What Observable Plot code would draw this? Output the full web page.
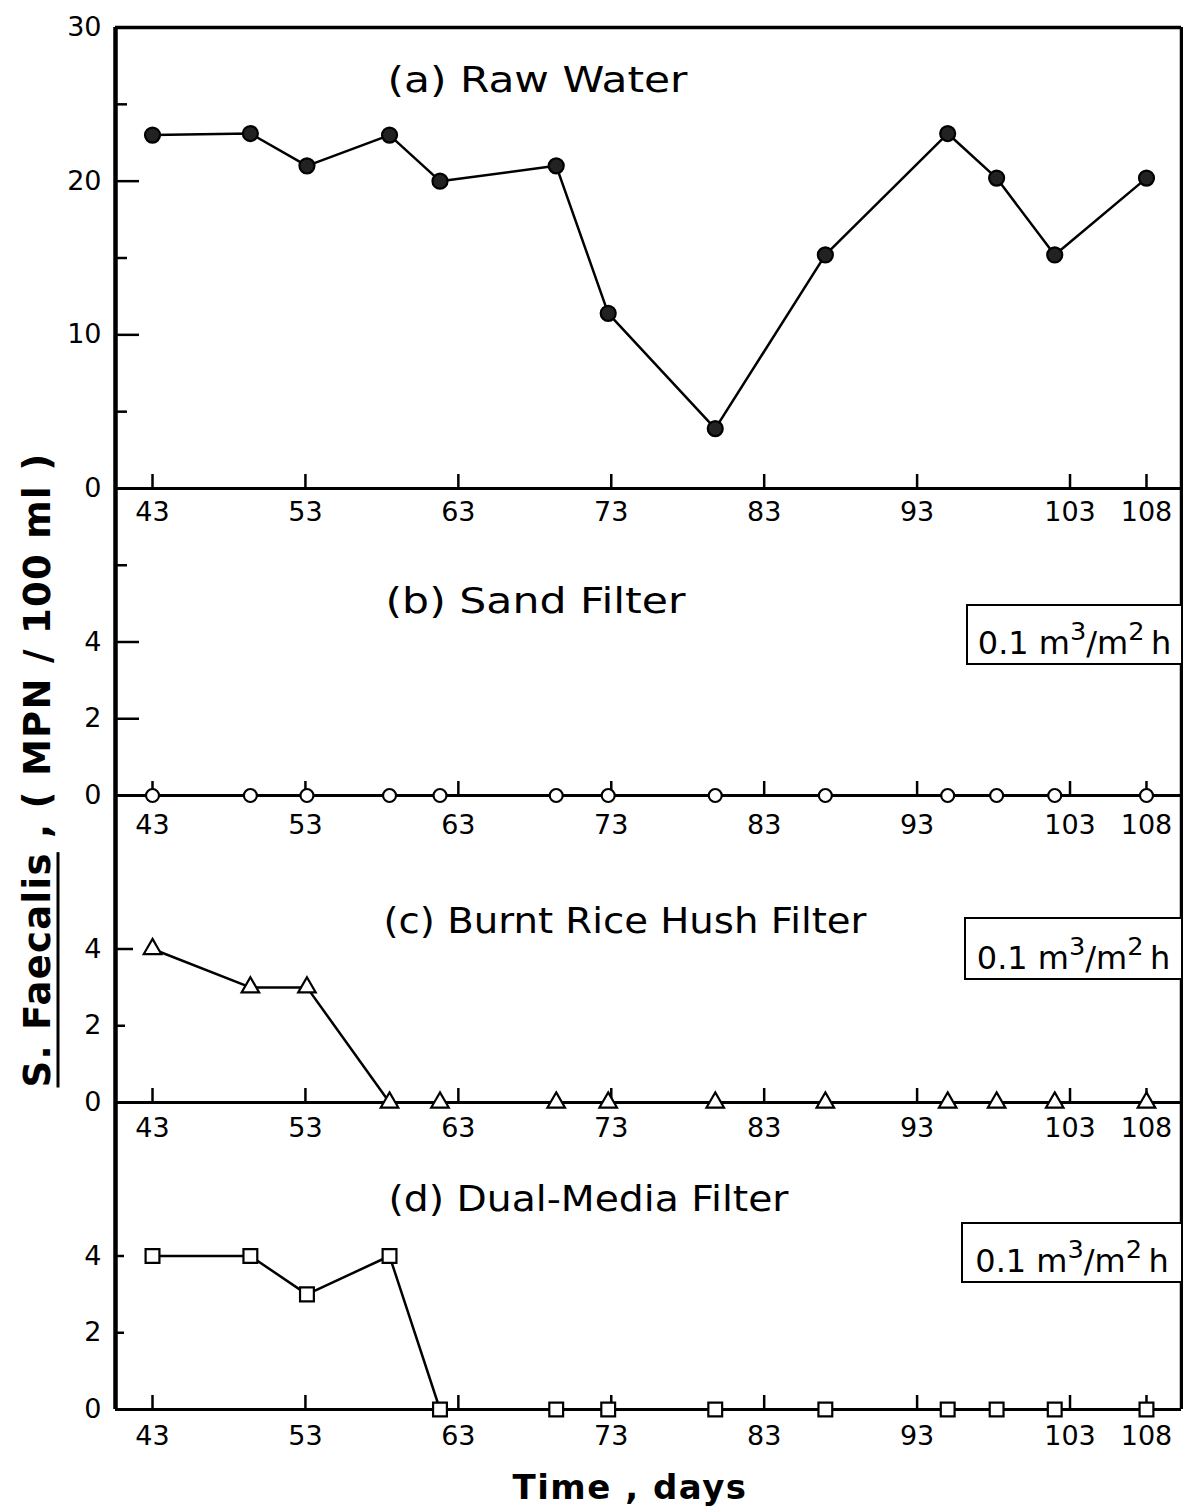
<!DOCTYPE html>
<html>
<head>
<meta charset="utf-8">
<script src="https://cdn.jsdelivr.net/npm/d3@7"></script>
<script src="https://cdn.jsdelivr.net/npm/@observablehq/plot@0.6"></script>
<style>
  body { margin: 0; background: #fff; }
  #fig { position: relative; width: 1183px; height: 1507px; font-family: "DejaVu Sans", sans-serif; color: #000; overflow: hidden; }
  .panel { position: absolute; left: 0; }
  .rate { position: absolute; border: 2.5px solid #000; border-right: none; background: #fff; box-sizing: border-box;
          font-size: 32px; display: flex; align-items: flex-end; justify-content: center; padding-bottom: 4px; white-space: nowrap; }
  .rate span.t { display: inline-block; line-height: 1; }
  .rate sup { font-size: 0.8em; vertical-align: 0.55em; line-height: 0; }
  #ylabel { position: absolute; left: 37px; top: 770px; transform: translate(-50%, -50%) rotate(-90deg);
            white-space: nowrap; font-weight: bold; font-size: 37px; letter-spacing: 1.3px; }
  #ylabel u { text-decoration-thickness: 3px; text-underline-offset: 7px; }
  #xlabel { position: absolute; left: 630px; top: 1487px; transform: translate(-50%, -50%);
            white-space: nowrap; font-weight: bold; font-size: 34px; letter-spacing: 1.5px; }
</style>
</head>
<body>
<div id="fig"></div>
<script>
// ---- data ----
const days = [43, 49.4, 53.1, 58.5, 61.8, 69.4, 72.8, 79.8, 87, 95, 98.2, 102, 108];
const rawWater        = [23, 23.1, 21, 23, 20, 21, 11.4, 3.9, 15.2, 23.1, 20.2, 15.2, 20.2];
const sandFilter      = [0, 0, 0, 0, 0, 0, 0, 0, 0, 0, 0, 0, 0];
const riceHuskFilter  = [4, 3, 3, 0, 0, 0, 0, 0, 0, 0, 0, 0, 0];
const dualMediaFilter = [4, 4, 3, 4, 0, 0, 0, 0, 0, 0, 0, 0, 0];
const xTicks = [43, 53, 63, 73, 83, 93, 103, 108];
const titles = ["(a) Raw Water", "(b) Sand Filter", "(c) Burnt Rice Hush Filter", "(d) Dual-Media Filter"];
const rateLabel = ["0.1 m", "3", "/m", "2", "h"];
const yLabel = ["S. Faecalis", " , ( MPN / 100 ml )"];
const xLabel = "Time , days";

// ---- layout ----
const W = 1183, ML = 115, MR = 2, MB = 50;
const xDomain = [40.58, 110.29];
const fig = document.getElementById("fig");

const panels = [
  {series: rawWater, yDomain: [0, 30], yLabels: [0, 10, 20, 30], major: [10, 20], minor: [5, 15, 25], majLen: 24, minLen: 12,
   top: 0, mt: 27, ph: 461, symbol: "circle", fill: "#222", r: 7.5, topLine: true, xpad: 13,
   title: titles[0], tx: 387, ty: 80, fs: 35, tw: 300},
  {series: sandFilter, yDomain: [0, 8], yLabels: [0, 2, 4], major: [2, 4], minor: [6], majLen: 24, minLen: 12,
   top: 478, mt: 10, ph: 307, symbol: "circle", fill: "white", r: 6.5, xpad: 19,
   title: titles[1], tx: 385, ty: 601, fs: 35, tw: 300, box: {left: 966, top: 604, h: 61}},
  {series: riceHuskFilter, yDomain: [0, 8], yLabels: [0, 2, 4], major: [4], minor: [2], majLen: 18, minLen: 10,
   top: 785, mt: 10, ph: 307, symbol: "triangle", fill: "white", r: 6.5, xpad: 15,
   title: titles[2], tx: 383, ty: 921, fs: 35, tw: 483, box: {left: 964, top: 917, h: 63}},
  {series: dualMediaFilter, yDomain: [0, 8], yLabels: [0, 2, 4], major: [4], minor: [2], majLen: 9, minLen: 9,
   top: 1092, mt: 10, ph: 307, symbol: "square", fill: "white", r: 7.8, xpad: 16,
   title: titles[3], tx: 388, ty: 1199, fs: 35, tw: 400, box: {left: 961, top: 1222, h: 61}}
];

panels.forEach(p => {
  const data = days.map((d, i) => ({day: d, value: p.series[i]}));
  const pw = W - ML - MR;
  const marks = [
    Plot.axisX(xTicks, {tickSize: 0, tickPadding: p.xpad, fontSize: 27, label: null}),
    Plot.axisY(p.yLabels, {tickSize: 0, tickPadding: 14, fontSize: 27, label: null}),
    Plot.tickX(xTicks, {x: d => d, insetTop: p.ph - 14, stroke: "black", strokeWidth: 2.5}),
    Plot.tickY(p.major, {y: d => d, insetRight: pw - p.majLen, stroke: "black", strokeWidth: 2.5}),
    Plot.tickY(p.minor, {y: d => d, insetRight: pw - p.minLen, stroke: "black", strokeWidth: 2.5}),
    Plot.ruleY([p.yDomain[0]], {stroke: "black", strokeWidth: 3}),
    Plot.ruleX([xDomain[0]], {stroke: "black", strokeWidth: 4.5}),
    Plot.ruleX([xDomain[1]], {stroke: "black", strokeWidth: 3.5}),
    Plot.line(data, {x: "day", y: "value", stroke: "black", strokeWidth: 2.5}),
    Plot.dot(data, {x: "day", y: "value", symbol: p.symbol, r: p.r, fill: p.fill, stroke: "black", strokeWidth: 2.2}),
    Plot.text([p.title], {frameAnchor: "top-left", dx: p.tx - ML, dy: p.ty - (p.top + p.mt), textAnchor: "start",
                          lineAnchor: "middle", fontSize: p.fs, fill: "black"})
  ];
  if (p.topLine) marks.push(Plot.ruleY([p.yDomain[1]], {stroke: "black", strokeWidth: 3.5}));
  const chart = Plot.plot({
    width: W, height: p.mt + p.ph + MB,
    marginLeft: ML, marginRight: MR, marginTop: p.mt, marginBottom: MB,
    style: {background: "transparent", fontFamily: "DejaVu Sans, sans-serif", color: "black", overflow: "visible"},
    x: {domain: xDomain, label: null},
    y: {domain: p.yDomain, label: null},
    marks
  });
  chart.classList.add("panel");
  chart.style.top = p.top + "px";
  chart.querySelectorAll("text").forEach(t => {
    if (t.textContent === p.title) {
      t.setAttribute("textLength", p.tw);
      t.setAttribute("lengthAdjust", "spacingAndGlyphs");
    }
  });
  fig.appendChild(chart);

  if (p.box) {
    const b = document.createElement("div");
    b.className = "rate";
    b.style.left = p.box.left + "px";
    b.style.top = p.box.top + "px";
    b.style.width = (W - MR - p.box.left) + "px";
    b.style.height = p.box.h + "px";
    b.innerHTML = `<span class="t">${rateLabel[0]}<sup>${rateLabel[1]}</sup>${rateLabel[2]}<sup>${rateLabel[3]}</sup>\u2009${rateLabel[4]}</span>`;
    fig.appendChild(b);
  }
});

const yl = document.createElement("div");
yl.id = "ylabel";
yl.innerHTML = `<u>${yLabel[0]}</u>${yLabel[1]}`;
fig.appendChild(yl);

const xl = document.createElement("div");
xl.id = "xlabel";
xl.textContent = xLabel;
fig.appendChild(xl);
</script>
</body>
</html>
